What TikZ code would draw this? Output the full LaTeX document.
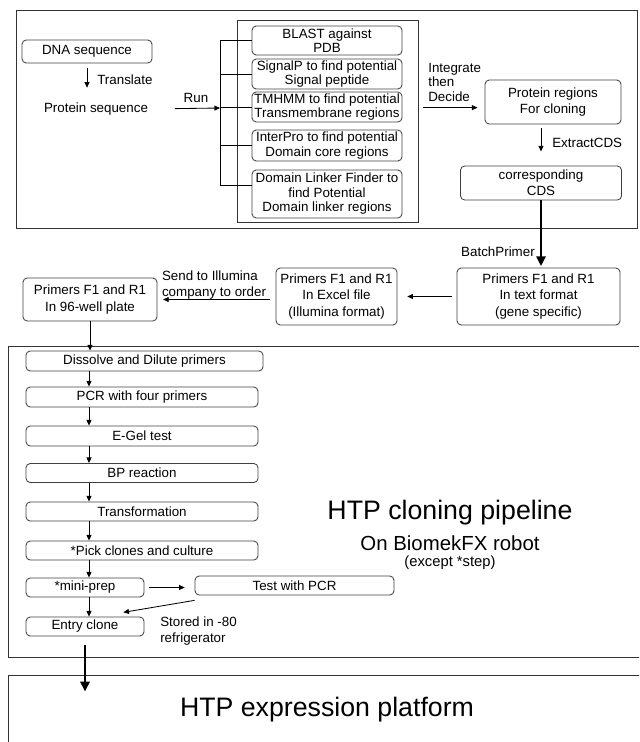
\documentclass[tikz,border=0pt]{standalone}
\usepackage{fontspec}
\setmainfont{Liberation Sans}
\usetikzlibrary{arrows.meta}

\tikzset{
  wh/.style 2 args={minimum width=#1*0.025cm, minimum height=#2*0.025cm},
  stepbox/.style={draw=black!75, line width=0.6pt, rounded corners=3pt, align=center, inner sep=0pt},
  frame/.style={draw=black!80, line width=0.7pt, inner sep=0pt},
  arr/.style={line width=0.6pt, -{Triangle[length=4pt,width=3.5pt]}},
  bigarr/.style={line width=2pt, -{Triangle[length=7pt,width=6.5pt]}},
  lbl/.style={align=left, inner sep=0pt},
  txt/.style={font=\fontsize{9.5}{11.5}\selectfont},
  tooltxt/.style={font=\fontsize{9.5}{10.3}\selectfont},
}

\begin{document}
\begin{tikzpicture}[x=0.025cm, y=-0.025cm, txt]
\useasboundingbox (0,0) rectangle (639,742);
\clip (0,0) rectangle (639,742);

% Frames
\node[frame, wh={621}{218}] (topframe) at (326.5,119) {};
\node[frame, wh={181}{202}] (toolframe) at (327.5,121) {};
\node[frame, wh={700}{311}] (cloneframe) at (358,501.5) {};
\node[frame, wh={700}{125}] (exprframe) at (358,737.5) {};

% Sequence analysis
\node[stepbox, wh={130}{23}] (dna) at (87,51.5) {DNA sequence};
\node[lbl] (protseq) at (96,109) {Protein sequence};
\node[lbl, anchor=west] (translbl) at (97,80) {Translate};
\draw[arr, shorten <=3.5pt, shorten >=10.5pt] (dna.south) -- (dna.south |- protseq.north);

\node[stepbox, tooltxt, wh={150}{29}] (blast) at (327,40.5) {BLAST against\\PDB};
\node[stepbox, tooltxt, wh={150}{30}] (signalp) at (327,74) {SignalP to find potential\\Signal peptide};
\node[stepbox, tooltxt, wh={150}{30}] (tmhmm) at (327,107) {TMHMM to find potential\\Transmembrane regions};
\node[stepbox, tooltxt, wh={150}{31}] (interpro) at (327,145.5) {InterPro to find potential\\Domain core regions};
\node[stepbox, tooltxt, wh={150}{48}] (linker) at (327,194) {Domain Linker Finder to\\find Potential\\Domain linker regions};

\coordinate (spine) at (220,108);
\coordinate (lk) at ([yshift=6.4pt]linker.west);
\draw[line width=0.6pt] (spine |- blast.west) -- (spine |- lk);
\foreach \t in {blast, signalp, tmhmm, interpro}
  \draw[line width=0.6pt] (spine |- \t.west) -- (\t.west);
\draw[line width=0.6pt] (spine |- lk) -- (lk);
\draw[arr, shorten <=19pt] (protseq.east) -- (spine);
\node[lbl, anchor=south] (runlbl) at (196,103) {Run};

\node[stepbox, wh={136}{44}] (protreg) at (553,102) {Protein regions\\For cloning};
\node[lbl, tooltxt, anchor=north west] (intlbl) at (428,63) {Integrate\\then\\Decide};
\coordinate (intin) at ([yshift=-4pt]protreg.west);
\draw[arr, shorten <=3pt, shorten >=5pt] (toolframe.east |- intin) -- (intin);

\node[stepbox, wh={161}{34}] (cds) at (541,183) {corresponding\\CDS};
\draw[arr, shorten <=2.8pt, shorten >=10pt] (cds.north |- protreg.south) -- (cds.north);
\node[lbl, anchor=west] (extlbl) at (552,143) {ExtractCDS};

% Primer design and ordering
\node[stepbox, wh={163}{57}] (textfmt) at (538.5,296.5) {Primers F1 and R1\\In text format\\(gene specific)};
\node[stepbox, wh={121}{57}] (excel) at (336.5,296.5) {Primers F1 and R1\\In Excel file\\(Illumina format)};
\node[stepbox, wh={134}{43}] (plate) at (90,299.5) {Primers F1 and R1\\In 96-well plate};

\draw[bigarr, shorten >=1pt] (cds.south) -- (cds.south |- textfmt.north);
\node[lbl, anchor=south east] (batchlbl) at (535,257) {BatchPrimer};
\draw[arr, shorten <=3.5pt, shorten >=7pt] (textfmt.west) -- (textfmt.west -| excel.east);
\draw[arr, shorten <=4pt, shorten >=4pt] (excel.west |- plate.east) -- (plate.east);
\node[lbl, anchor=south] (sendlbl) at (214,300) {Send to Illumina\\company to order};

% Cloning pipeline
\node[stepbox, wh={237}{20}] (dissolve) at (144.5,361) {Dissolve and Dilute primers};
\node[stepbox, wh={232}{20}] (pcr) at (142,397) {PCR with four primers};
\node[stepbox, wh={232}{20}] (egel) at (142,436) {E-Gel test};
\node[stepbox, wh={232}{19}] (bp) at (142,473) {BP reaction};
\node[stepbox, wh={232}{19}] (transf) at (142,511.5) {Transformation};
\node[stepbox, wh={232}{19}] (pick) at (142,550.5) {*Pick clones and culture};
\node[stepbox, wh={118}{19}] (miniprep) at (85,587.5) {*mini-prep};
\node[stepbox, wh={199}{19}] (testpcr) at (294.5,585.5) {Test with PCR};
\node[stepbox, wh={118}{19}] (entry) at (85,626.5) {Entry clone};

\draw[arr] (plate.south) -- (plate.south |- dissolve.north);
\coordinate (stepx) at (89,0);
\foreach \a/\b in {dissolve/pcr, pcr/egel, egel/bp, bp/transf, transf/pick, pick/miniprep, miniprep/entry}
  \draw[arr] (stepx |- \a.south) -- (stepx |- \b.north);
\draw[arr, shorten <=3pt, shorten >=7pt] (miniprep.east) -- (miniprep.east -| testpcr.west);
\draw[arr] ([yshift=-3.5pt]testpcr.south west) -- ([shift={(-15pt,3pt)}]entry.north east);
\node[lbl, anchor=west] (storelbl) at (160,631) {Stored in -80\\refrigerator};

\node[font=\fontsize{19}{22}\selectfont] (clonetitle) at (450,513) {HTP cloning pipeline};
\node[font=\fontsize{14.5}{17}\selectfont] (robotlbl) at (450,543) {On BiomekFX robot};
\node[font=\fontsize{10.5}{12}\selectfont] (exceptlbl) at (450,563) {(except *step)};

% Expression platform
\path (entry.south |- exprframe.north) ++(0,17) coordinate (exprin);
\draw[bigarr, shorten <=6pt] (entry.south) -- (exprin);
\node[font=\fontsize{19}{22}\selectfont] (exprtitle) at (327,710) {HTP expression platform};

\end{tikzpicture}
\end{document}
